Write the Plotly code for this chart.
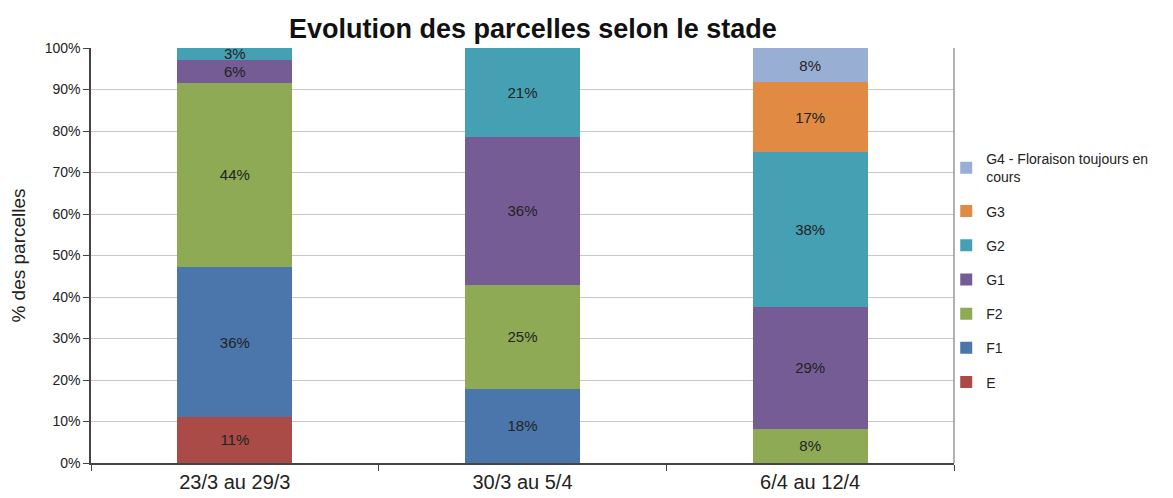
import plotly.graph_objects as go

categories = ["23/3 au 29/3", "30/3 au 5/4", "6/4 au 12/4"]

series_names = ["E", "F1", "F2", "G1", "G2", "G3", "G4 - Floraison toujours en<br>cours"]
E_vals  = [11.1, None, None]
F1_vals = [36.1, 17.9, None]
F2_vals = [44.4, 25.0, 8.3]
G1_vals = [5.6, 35.7, 29.2]
G2_vals = [2.8, 21.4, 37.5]
G3_vals = [None, None, 16.7]
G4_vals = [None, None, 8.3]

colors = ["#AB4B48", "#4A76AB", "#8EAA54", "#765C94", "#46A0B3", "#E08A43", "#99AED3"]

all_vals = [E_vals, F1_vals, F2_vals, G1_vals, G2_vals, G3_vals, G4_vals]

FONT = "Liberation Sans, Arial, sans-serif"

fig = go.Figure()
n = len(series_names)
for i, (name, vals, col) in enumerate(zip(series_names, all_vals, colors)):
    fig.add_trace(go.Bar(
        x=categories, y=vals, name=name, legendgroup="g%d" % i,
        legendrank=n - i,
        marker=dict(color=col, line=dict(width=0)),
        text=[("%.0f%%" % v) if v is not None else "" for v in vals],
        textposition="inside", insidetextanchor="middle",
        textfont=dict(size=15, color="#222222", family=FONT),
        hoverinfo="skip",
    ))

fig.update_layout(
    barmode="stack",
    bargap=0.6,
    width=1165, height=490,
    margin=dict(l=83, r=219, t=40, b=35),
    paper_bgcolor="white", plot_bgcolor="white",
    font=dict(family=FONT, color="#222222"),
    title=dict(text="<b>Evolution des parcelles selon le stade</b>",
               x=0.4506, xanchor="center", y=0.959, yanchor="middle",
               font=dict(size=27, color="#111111")),
    uniformtext=dict(mode="show", minsize=15),
    legend=dict(x=0.991, xanchor="left", y=0.771, yanchor="top",
                traceorder="grouped", font=dict(size=14, color="#222222"),
                itemwidth=30, tracegroupgap=13,
                bgcolor="rgba(0,0,0,0)"),
    showlegend=True,
)

fig.update_xaxes(
    showline=True, linecolor="#444444", linewidth=1.5,
    ticks="outside", tickson="boundaries", ticklen=6, tickcolor="#444444",
    tickfont=dict(size=20, color="#222222"), showgrid=False,
    automargin=False,
)
fig.update_yaxes(
    range=[0, 100], dtick=10, ticksuffix="%",
    showline=True, linecolor="#444444", linewidth=1.5,
    ticks="outside", ticklen=6, tickcolor="#444444",
    tickfont=dict(size=14, color="#222222"),
    showgrid=True, gridcolor="#C8C8C8", gridwidth=1,
    automargin=False,
    title=dict(text="% des parcelles", font=dict(size=19, color="#222222"), standoff=18),
)

fig.add_shape(type="line", xref="paper", yref="paper", x0=1, x1=1, y0=0, y1=1,
              line=dict(color="#999999", width=1.5))

fig.write_html("out.html")
